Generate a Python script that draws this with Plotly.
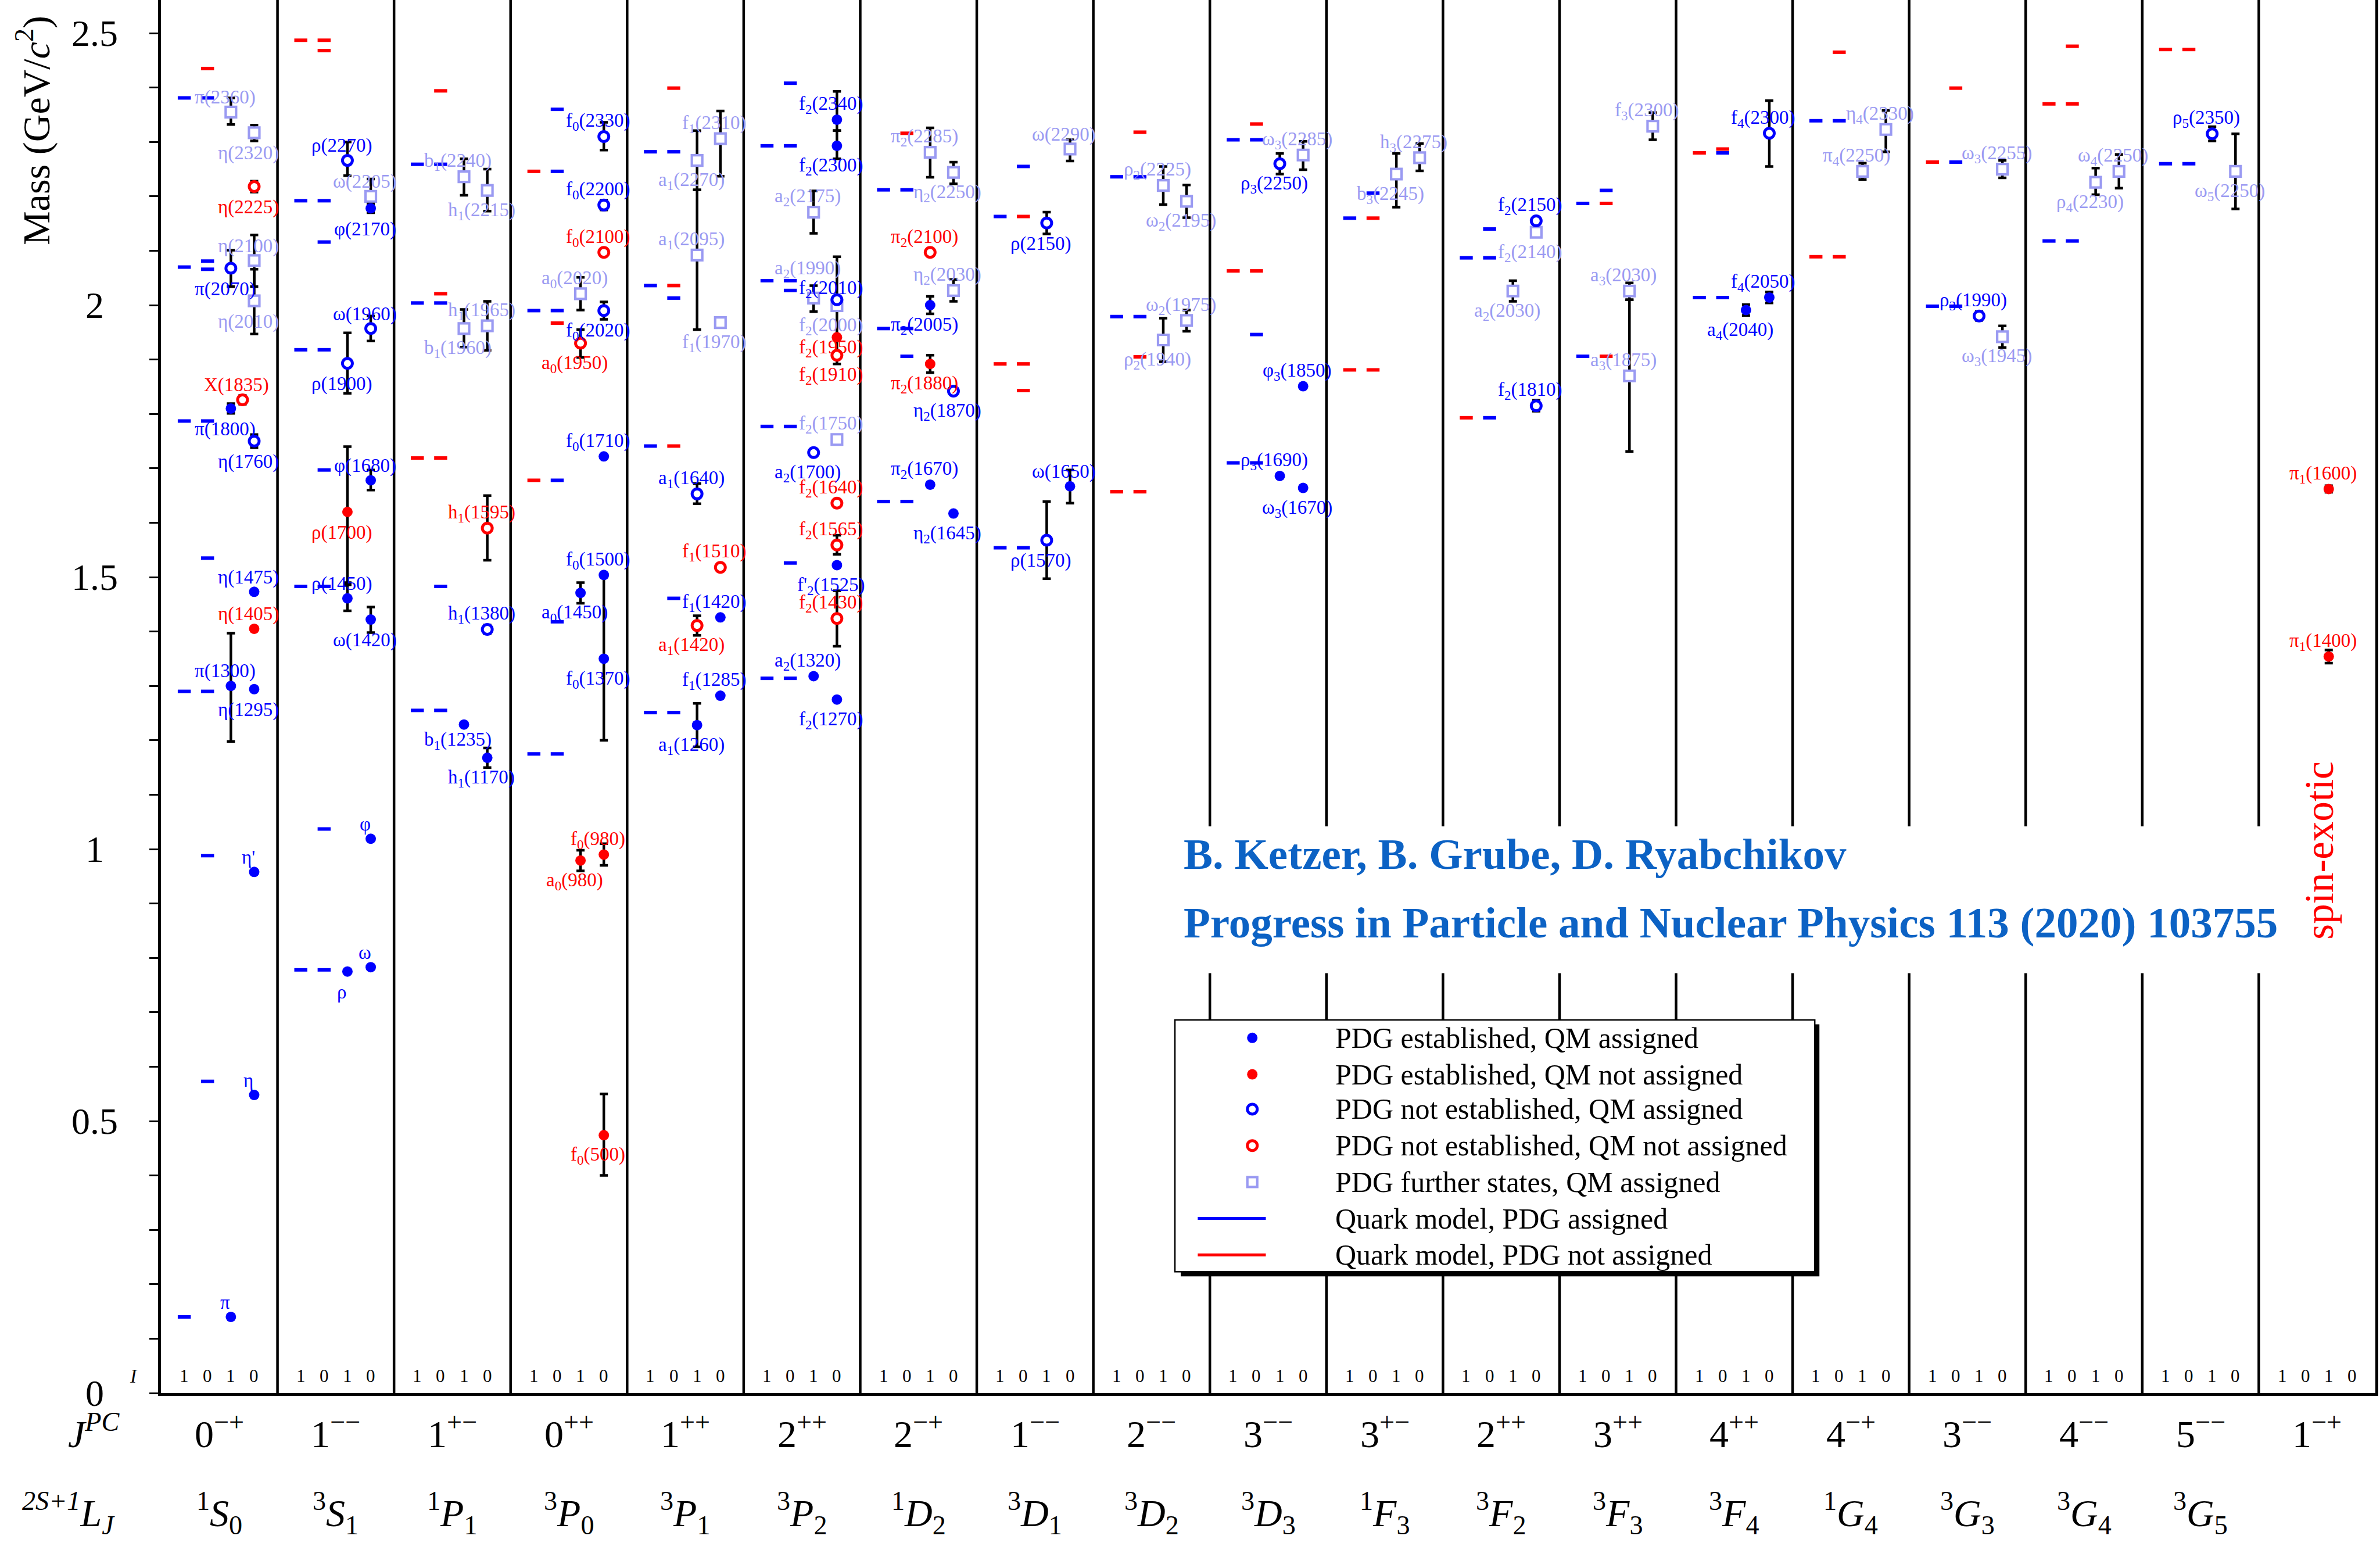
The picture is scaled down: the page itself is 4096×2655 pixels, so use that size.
import plotly.graph_objects as go

FONT = "Liberation Serif"
BLUE = "#0000ff"
RED = "#ff0000"
LIGHT = "#9a9af2"

# ---------------- quantum numbers of the 19 columns ----------------
jpc = ["0<sup>\u2212+</sup>", "1<sup>\u2212\u2212</sup>", "1<sup>+\u2212</sup>", "0<sup>++</sup>",
       "1<sup>++</sup>", "2<sup>++</sup>", "2<sup>\u2212+</sup>", "1<sup>\u2212\u2212</sup>",
       "2<sup>\u2212\u2212</sup>", "3<sup>\u2212\u2212</sup>", "3<sup>+\u2212</sup>", "2<sup>++</sup>",
       "3<sup>++</sup>", "4<sup>++</sup>", "4<sup>\u2212+</sup>", "3<sup>\u2212\u2212</sup>",
       "4<sup>\u2212\u2212</sup>", "5<sup>\u2212\u2212</sup>", "1<sup>\u2212+</sup>"]
term = ["1S0", "3S1", "1P1", "3P0", "3P1", "3P2", "1D2", "3D1", "3D2", "3D3",
        "1F3", "3F2", "3F3", "3F4", "1G4", "3G3", "3G4", "3G5", ""]
iso_row = ["1", "0", "1", "0"]
mass_ticks = [0, 0.5, 1, 1.5, 2, 2.5]
mass_tick_text = ["0", "0.5", "1", "1.5", "2", "2.5"]

# ---------------- quark-model levels (GeV), per column ----------------
# isospin of each level, whether it is matched to a PDG state (1) or not (0), and mass
qm_iso = [
    [1, 0, 0, 1, 0, 0, 1, 0, 0, 1, 0, 0, 0, 1],
    [1, 0, 0, 1, 0, 0, 1, 0, 0, 1, 0, 0, 1, 0],
    [0, 1, 0, 1, 0, 0, 1, 0, 0, 1, 0],
    [0, 1, 0, 1, 0, 0, 1, 0, 0, 1, 0],
    [0, 1, 0, 1, 0, 0, 1, 0, 0, 1, 0],
    [0, 1, 0, 1, 0, 0, 1, 0, 0, 1, 0],
    [0, 1, 0, 1, 0, 0, 1, 0],
    [0, 1, 0, 1, 0, 0, 1, 0],
    [0, 1, 0, 1, 0, 0, 1, 0],
    [0, 1, 0, 1, 0, 0, 1, 0],
    [0, 1, 0, 1, 0],
    [0, 1, 0, 1, 0],
    [0, 1, 0, 1, 0],
    [1, 0, 0, 1, 0],
    [0, 1, 0, 1, 0],
    [0, 1, 0, 1, 0],
    [0, 1, 0, 1, 0],
    [1, 0, 1, 0],
    [],
]
qm_pdg = [
    [1, 1, 0, 1, 1, 1, 1, 1, 1, 1, 1, 1, 1, 1],
    [0, 0, 0, 1, 1, 1, 1, 1, 1, 1, 1, 1, 1, 1],
    [0, 1, 1, 1, 0, 1, 0, 0, 1, 1, 1],
    [1, 0, 1, 1, 1, 0, 0, 1, 1, 1, 1],
    [0, 1, 1, 1, 0, 1, 1, 0, 1, 1, 1],
    [1, 1, 1, 1, 1, 1, 1, 1, 1, 1, 1],
    [0, 1, 1, 1, 1, 1, 1, 1],
    [1, 1, 0, 0, 0, 0, 1, 1],
    [0, 1, 1, 1, 1, 0, 0, 0],
    [0, 1, 1, 0, 0, 1, 1, 1],
    [1, 1, 0, 0, 0],
    [1, 1, 1, 0, 1],
    [1, 1, 0, 1, 0],
    [0, 0, 1, 1, 1],
    [0, 1, 1, 0, 0],
    [0, 0, 1, 1, 1],
    [0, 0, 0, 1, 1],
    [0, 0, 1, 1],
    [],
]
qm_mass = [
    [2.381, 2.381, 2.435, 2.070, 2.081, 2.066, 1.787, 1.787, 1.535, 1.290, 1.290, 0.988, 0.573, 0.140],
    [2.487, 2.487, 2.468, 2.192, 2.192, 2.116, 1.918, 1.918, 1.697, 1.483, 1.483, 1.037, 0.778, 0.778],
    [2.394, 2.259, 2.259, 2.004, 2.021, 2.004, 1.719, 1.719, 1.483, 1.255, 1.255],
    [2.360, 2.246, 2.246, 1.990, 1.990, 1.967, 1.678, 1.678, 1.418, 1.175, 1.175],
    [2.399, 2.282, 2.282, 2.036, 2.036, 2.013, 1.741, 1.741, 1.461, 1.251, 1.251],
    [2.408, 2.293, 2.293, 2.045, 2.045, 2.027, 1.777, 1.777, 1.526, 1.314, 1.314],
    [2.316, 2.212, 2.212, 1.957, 1.957, 1.906, 1.639, 1.639],
    [2.255, 2.163, 2.163, 1.892, 1.892, 1.843, 1.554, 1.554],
    [2.318, 2.236, 2.236, 1.979, 1.979, 1.905, 1.657, 1.657],
    [2.333, 2.304, 2.304, 2.063, 2.063, 1.946, 1.710, 1.710],
    [2.206, 2.160, 2.160, 1.881, 1.881],
    [2.140, 2.087, 2.087, 1.793, 1.793],
    [2.211, 2.187, 2.187, 1.906, 1.906],
    [2.280, 2.287, 2.280, 2.014, 2.014],
    [2.465, 2.339, 2.339, 2.089, 2.089],
    [2.399, 2.263, 2.263, 1.998, 1.998],
    [2.476, 2.370, 2.370, 2.118, 2.118],
    [2.470, 2.470, 2.260, 2.260],
    [],
]

# ---------------- PDG states ----------------
# class: EA established/assigned, EN established/not assigned,
#        NA not established/assigned, NN not established/not assigned, F further states
pdg_name = [
    "\u03c0", "\u03b7", "\u03b7'", "\u03c0(1300)", "\u03b7(1295)", "\u03b7(1405)", "\u03b7(1475)",
    "\u03c0(1800)", "X(1835)", "\u03b7(1760)", "\u03c0(2070)", "\u03b7(2100)", "\u03b7(2010)",
    "\u03b7(2225)", "\u03b7(2320)", "\u03c0(2360)",
    "\u03c1", "\u03c9", "\u03c6", "\u03c1(1450)", "\u03c9(1420)", "\u03c1(1700)", "\u03c6(1680)",
    "\u03c1(1900)", "\u03c9(1960)", "\u03c6(2170)", "\u03c9(2205)", "\u03c1(2270)",
    "b<sub>1</sub>(1235)", "h<sub>1</sub>(1170)", "h<sub>1</sub>(1380)", "h<sub>1</sub>(1595)",
    "b<sub>1</sub>(1960)", "h<sub>1</sub>(1965)", "b<sub>1</sub>(2240)", "h<sub>1</sub>(2215)",
    "f<sub>0</sub>(500)", "a<sub>0</sub>(980)", "f<sub>0</sub>(980)", "a<sub>0</sub>(1450)",
    "f<sub>0</sub>(1370)", "f<sub>0</sub>(1500)", "f<sub>0</sub>(1710)", "a<sub>0</sub>(1950)",
    "f<sub>0</sub>(2020)", "a<sub>0</sub>(2020)", "f<sub>0</sub>(2100)", "f<sub>0</sub>(2200)",
    "f<sub>0</sub>(2330)",
    "a<sub>1</sub>(1260)", "f<sub>1</sub>(1285)", "a<sub>1</sub>(1420)", "f<sub>1</sub>(1420)",
    "f<sub>1</sub>(1510)", "a<sub>1</sub>(1640)", "f<sub>1</sub>(1970)", "a<sub>1</sub>(2095)",
    "a<sub>1</sub>(2270)", "f<sub>1</sub>(2310)",
    "a<sub>2</sub>(1320)", "f<sub>2</sub>(1270)", "f<sub>2</sub>(1430)", "f'<sub>2</sub>(1525)",
    "f<sub>2</sub>(1565)", "f<sub>2</sub>(1640)", "a<sub>2</sub>(1700)", "f<sub>2</sub>(1750)",
    "f<sub>2</sub>(1910)", "f<sub>2</sub>(1950)", "f<sub>2</sub>(2000)", "f<sub>2</sub>(2010)",
    "a<sub>2</sub>(1990)", "a<sub>2</sub>(2175)", "f<sub>2</sub>(2300)", "f<sub>2</sub>(2340)",
    "\u03c0<sub>2</sub>(1670)", "\u03b7<sub>2</sub>(1645)", "\u03c0<sub>2</sub>(1880)",
    "\u03b7<sub>2</sub>(1870)", "\u03c0<sub>2</sub>(2005)", "\u03b7<sub>2</sub>(2030)",
    "\u03c0<sub>2</sub>(2100)", "\u03c0<sub>2</sub>(2285)", "\u03b7<sub>2</sub>(2250)",
    "\u03c1(1570)", "\u03c9(1650)", "\u03c1(2150)", "\u03c9(2290)",
    "\u03c1<sub>2</sub>(1940)", "\u03c9<sub>2</sub>(1975)", "\u03c1<sub>2</sub>(2225)",
    "\u03c9<sub>2</sub>(2195)",
    "\u03c1<sub>3</sub>(1690)", "\u03c9<sub>3</sub>(1670)", "\u03c6<sub>3</sub>(1850)",
    "\u03c1<sub>3</sub>(2250)", "\u03c9<sub>3</sub>(2285)",
    "b<sub>3</sub>(2245)", "h<sub>3</sub>(2275)",
    "a<sub>2</sub>(2030)", "f<sub>2</sub>(1810)", "f<sub>2</sub>(2140)", "f<sub>2</sub>(2150)",
    "a<sub>3</sub>(1875)", "a<sub>3</sub>(2030)", "f<sub>3</sub>(2300)",
    "a<sub>4</sub>(2040)", "f<sub>4</sub>(2050)", "f<sub>4</sub>(2300)",
    "\u03c0<sub>4</sub>(2250)", "\u03b7<sub>4</sub>(2330)",
    "\u03c1<sub>3</sub>(1990)", "\u03c9<sub>3</sub>(1945)", "\u03c9<sub>3</sub>(2255)",
    "\u03c1<sub>4</sub>(2230)", "\u03c9<sub>4</sub>(2250)",
    "\u03c1<sub>5</sub>(2350)", "\u03c9<sub>5</sub>(2250)",
    "\u03c0<sub>1</sub>(1400)", "\u03c0<sub>1</sub>(1600)",
]
pdg_col = [0] * 16 + [1] * 12 + [2] * 8 + [3] * 13 + [4] * 10 + [5] * 16 + [6] * 9 + [7] * 4 \
    + [8] * 4 + [9] * 5 + [10] * 2 + [11] * 4 + [12] * 3 + [13] * 3 + [14] * 2 + [15] * 3 \
    + [16] * 2 + [17] * 2 + [18] * 2
pdg_iso = [
    1, 0, 0, 1, 0, 0, 0, 1, None, 0, 1, 0, 0, 0, 0, 1,
    1, 0, 0, 1, 0, 1, 0, 1, 0, 0, 0, 1,
    1, 0, 0, 0, 1, 0, 1, 0,
    0, 1, 0, 1, 0, 0, 0, 1, 0, 1, 0, 0, 0,
    1, 0, 1, 0, 0, 1, 0, 1, 1, 0,
    1, 0, 0, 0, 0, 0, 1, 0, 0, 0, 0, 0, 1, 1, 0, 0,
    1, 0, 1, 0, 1, 0, 1, 1, 0,
    1, 0, 1, 0,
    1, 0, 1, 0,
    1, 0, 0, 1, 0,
    1, 0,
    1, 0, 0, 0,
    1, 1, 0,
    1, 0, 0,
    1, 0,
    1, 0, 0,
    1, 0,
    1, 0,
    1, 1,
]
pdg_mass = [
    0.140, 0.548, 0.958, 1.300, 1.294, 1.405, 1.473, 1.810, 1.826, 1.750, 2.068, 2.082, 2.008,
    2.218, 2.317, 2.355,
    0.775, 0.783, 1.019, 1.461, 1.422, 1.620, 1.678, 1.893, 1.957, 2.178, 2.200, 2.266,
    1.229, 1.168, 1.404, 1.590, 1.957, 1.962, 2.236, 2.211,
    0.474, 0.979, 0.990, 1.471, 1.350, 1.504, 1.722, 1.930, 1.990, 2.021, 2.097, 2.184, 2.310,
    1.228, 1.282, 1.411, 1.426, 1.518, 1.653, 1.968, 2.092, 2.266, 2.306,
    1.318, 1.275, 1.424, 1.522, 1.559, 1.636, 1.729, 1.753, 1.908, 1.941, 1.999, 2.010, 2.013,
    2.171, 2.293, 2.341,
    1.670, 1.617, 1.892, 1.842, 2.000, 2.027, 2.097, 2.281, 2.244,
    1.568, 1.667, 2.151, 2.287,
    1.936, 1.972, 2.220, 2.191,
    1.686, 1.664, 1.851, 2.260, 2.276,
    2.241, 2.271,
    2.026, 1.815, 2.134, 2.155,
    1.870, 2.026, 2.329,
    1.991, 2.014, 2.316,
    2.246, 2.323,
    1.980, 1.942, 2.250,
    2.226, 2.246,
    2.315, 2.246,
    1.354, 1.662,
]
pdg_err_up = [
    None, None, None, 0.097, None, None, None, 0.009, 0.008, 0.012, 0.033, 0.047, 0.058,
    0.010, 0.014, 0.026,
    None, None, None, 0.025, 0.023, 0.120, 0.019, 0.056, 0.023, 0.008, 0.032, 0.034,
    None, 0.018, 0.008, 0.060, 0.035, 0.045, 0.033, 0.039,
    0.076, 0.019, 0.020, 0.019, 0.150, None, None, 0.025, 0.016, 0.030, None, 0.009, 0.026,
    0.040, None, 0.018, None, None, 0.019, 0.008, 0.120, 0.055, 0.051,
    None, None, 0.051, None, 0.018, None, None, None, None, None, 0.090, None, 0.023,
    0.039, 0.028, 0.052,
    None, None, 0.016, None, 0.016, 0.020, None, 0.045, 0.019,
    0.071, 0.030, 0.020, 0.017,
    0.040, 0.019, 0.035, 0.030,
    None, None, None, 0.019, 0.025,
    0.038, 0.026,
    0.019, 0.010, 0.006, 0.005,
    0.140, 0.015, 0.025,
    0.010, 0.010, 0.060,
    0.015, 0.035,
    0.008, 0.020, 0.016,
    0.026, 0.031,
    0.013, 0.069,
    0.012, 0.006,
]
pdg_err_dn = [
    None, None, None, 0.102, None, None, None, 0.009, 0.008, 0.012, 0.034, 0.048, 0.061,
    0.010, 0.015, 0.023,
    None, None, None, 0.023, 0.024, 0.130, 0.018, 0.055, 0.023, 0.008, 0.022, 0.028,
    None, 0.018, 0.008, 0.059, 0.034, 0.045, 0.034, 0.038,
    0.074, 0.019, 0.020, 0.019, 0.150, None, None, 0.026, 0.016, 0.030, None, 0.009, 0.025,
    0.040, None, 0.018, None, None, 0.018, 0.008, 0.137, 0.054, 0.069,
    None, None, 0.051, None, 0.017, None, None, None, None, None, 0.107, None, 0.025,
    0.039, 0.024, 0.020,
    None, None, 0.016, None, 0.016, 0.020, None, 0.046, 0.021,
    0.071, 0.031, 0.020, 0.022,
    0.040, 0.020, 0.035, 0.030,
    None, None, None, 0.019, 0.027,
    0.061, 0.024,
    0.019, 0.010, 0.006, 0.005,
    0.139, 0.016, 0.025,
    0.010, 0.010, 0.061,
    0.015, 0.041,
    0.008, 0.020, 0.016,
    0.023, 0.031,
    0.013, 0.069,
    0.012, 0.006,
]
pdg_class = [
    "EA", "EA", "EA", "EA", "EA", "EN", "EA", "EA", "NN", "NA", "NA", "F", "F", "NN", "F", "F",
    "EA", "EA", "EA", "EA", "EA", "EN", "EA", "NA", "NA", "EA", "F", "NA",
    "EA", "EA", "NA", "NN", "F", "F", "F", "F",
    "EN", "EN", "EN", "EA", "EA", "EA", "EA", "NN", "NA", "F", "NN", "NA", "NA",
    "EA", "EA", "NN", "EA", "NN", "NA", "F", "F", "F", "F",
    "EA", "EA", "NN", "EA", "NN", "NN", "NA", "F", "NN", "EN", "F", "NA", "F", "F", "EA", "EA",
    "EA", "EA", "EN", "NA", "EA", "F", "NN", "F", "F",
    "NA", "EA", "NA", "F",
    "F", "F", "F", "F",
    "EA", "EA", "EA", "NA", "F",
    "F", "F",
    "F", "NA", "F", "NA",
    "F", "F", "F",
    "EA", "EA", "NA",
    "F", "F",
    "NA", "F", "F",
    "F", "F",
    "NA", "F",
    "EN", "EN",
]

# label placement: 'a' above the marker, 'b' below; a few labels get their own offset
label_side = [
    "a", "a", "a", "a", "b", "a", "a", "b", "a", "b", "b", "a", "b", "b", "b", "a",
    "b", "a", "a", "a", "b", "b", "a", "b", "a", "b", "a", "a",
    "b", "b", "a", "a", "b", "a", "a", "b",
    "b", "b", "a", "b", "b", "a", "a", "b", "b", "a", "a", "a", "a",
    "b", "a", "b", "a", "a", "a", "b", "a", "b", "a",
    "a", "b", "a", "b", "a", "a", "b", "a", "b", "b", "b", "a", "a", "a", "b", "a",
    "a", "b", "b", "b", "b", "a", "a", "a", "b",
    "b", "a", "b", "a",
    "b", "a", "a", "b",
    "a", "b", "a", "b", "a",
    "b", "a",
    "b", "a", "b", "a",
    "a", "a", "a",
    "b", "a", "a",
    "a", "a",
    "a", "b", "a",
    "b", "a",
    "a", "b",
    "a", "a",
]
label_dy_special = {"b<sub>1</sub>(1235)": -0.030, "f<sub>2</sub>(1950)": -0.021,
                    "a<sub>2</sub>(1990)": 0.053, "f<sub>2</sub>(2010)": 0.020}

QM_DX = {1: 0.2, 0: 0.4}
PDG_DX = {1: 0.6, 0: 0.8, None: 0.7}

fig = go.Figure()

# quark-model levels as short horizontal dashes
for flag, colr in ((1, BLUE), (0, RED)):
    xs, ys = [], []
    for c in range(len(qm_mass)):
        for iso, pdg, m in zip(qm_iso[c], qm_pdg[c], qm_mass[c]):
            if pdg == flag:
                xs.append(c + QM_DX[iso])
                ys.append(m)
    fig.add_trace(go.Scatter(
        x=xs, y=ys, mode="markers", hoverinfo="skip",
        marker=dict(symbol="line-ew", size=16, color=colr,
                    line=dict(color=colr, width=6))))

# PDG states with their mass ranges
styles = {
    "EA": dict(symbol="circle", size=18, color=BLUE, line=dict(width=0)),
    "EN": dict(symbol="circle", size=18, color=RED, line=dict(width=0)),
    "NA": dict(symbol="circle", size=17, color="white", line=dict(color=BLUE, width=5)),
    "NN": dict(symbol="circle", size=17, color="white", line=dict(color=RED, width=5)),
    "F": dict(symbol="square", size=18, color="white", line=dict(color=LIGHT, width=4.2)),
}
label_color = {"EA": BLUE, "NA": BLUE, "EN": RED, "NN": RED, "F": LIGHT}

for cls in ("F", "NA", "NN", "EA", "EN"):
    idx = [i for i, k in enumerate(pdg_class) if k == cls]
    fig.add_trace(go.Scatter(
        x=[pdg_col[i] + PDG_DX[pdg_iso[i]] for i in idx],
        y=[pdg_mass[i] for i in idx],
        mode="markers", hoverinfo="skip", marker=styles[cls],
        error_y=dict(type="data", symmetric=False,
                     array=[pdg_err_up[i] for i in idx],
                     arrayminus=[pdg_err_dn[i] for i in idx],
                     color="black", thickness=4.5, width=7)))

ann = []
for i, name in enumerate(pdg_name):
    dy = label_dy_special.get(name, 0.027 if label_side[i] == "a" else -0.038)
    ann.append(dict(x=pdg_col[i] + PDG_DX[pdg_iso[i]] - 0.05, y=pdg_mass[i] + dy,
                    xref="x", yref="y", text=name, showarrow=False,
                    xanchor="center", yanchor="middle",
                    font=dict(family=FONT, size=33, color=label_color[pdg_class[i]])))

# mass tick labels, centred left of the axis
for v, t in zip(mass_ticks, mass_tick_text):
    ann.append(dict(x=-0.0298, y=v, xref="paper", yref="y", text=t, showarrow=False,
                    xanchor="center", yanchor="middle",
                    font=dict(family=FONT, size=64, color="black")))

# isospin row inside the frame
for c in range(len(jpc)):
    for k, off in enumerate((0.2, 0.4, 0.6, 0.8)):
        ann.append(dict(x=c + off, y=0.031, xref="x", yref="y", text=iso_row[k],
                        showarrow=False, xanchor="center", yanchor="middle",
                        font=dict(family=FONT, size=31, color="black")))
ann.append(dict(x=-0.0123, y=0.031, xref="paper", yref="y", text="<i>I</i>",
                showarrow=False, xanchor="center", yanchor="middle",
                font=dict(family=FONT, size=33, color="black")))

# J^PC and spectroscopic rows under the axis
for c in range(len(jpc)):
    ann.append(dict(x=c + 0.5, y=-0.0274, xref="x", yref="paper", text=jpc[c],
                    showarrow=False, xanchor="center", yanchor="middle",
                    font=dict(family=FONT, size=66, color="black")))
    t = term[c]
    if t:
        ann.append(dict(x=c + 0.5, y=-0.0862, xref="x", yref="paper",
                        text="<sup>%s</sup><i>%s</i><sub>%s</sub>" % (t[0], t[1], t[2]),
                        showarrow=False, xanchor="center", yanchor="middle",
                        font=dict(family=FONT, size=66, color="black")))
ann.append(dict(x=-0.0301, y=-0.0274, xref="paper", yref="paper", text="<i>J<sup>PC</sup></i>",
                showarrow=False, xanchor="center", yanchor="middle",
                font=dict(family=FONT, size=66, color="black")))
ann.append(dict(x=-0.0418, y=-0.0862, xref="paper", yref="paper",
                text="<i><sup>2S+1</sup>L<sub>J</sub></i>",
                showarrow=False, xanchor="center", yanchor="middle",
                font=dict(family=FONT, size=66, color="black")))

# axis title
ann.append(dict(x=-0.0576, y=0.9063, xref="paper", yref="paper",
                text="Mass (GeV/<i>c</i><sup>2</sup>)", textangle=-90, showarrow=False,
                xanchor="center", yanchor="middle",
                font=dict(family=FONT, size=66, color="black")))

# reference and spin-exotic tag
CITE = "rgb(12,98,196)"
ann.append(dict(x=8.766, y=0.9905, xref="x", yref="y",
                text="<b>B. Ketzer, B. Grube, D. Ryabchikov</b>", showarrow=False,
                xanchor="left", yanchor="middle", font=dict(family=FONT, size=75, color=CITE)))
ann.append(dict(x=8.766, y=0.865, xref="x", yref="y",
                text="<b>Progress in Particle and Nuclear Physics 113 (2020) 103755</b>",
                showarrow=False, xanchor="left", yanchor="middle",
                font=dict(family=FONT, size=75, color=CITE)))
ann.append(dict(x=18.52, y=0.998, xref="x", yref="y", text="spin-exotic", textangle=-90,
                showarrow=False, xanchor="center", yanchor="middle",
                font=dict(family=FONT, size=69, color=RED)))

# legend
legend_rows = [
    ("circle", BLUE, True, "PDG established, QM assigned"),
    ("circle", RED, True, "PDG established, QM not assigned"),
    ("circle", BLUE, False, "PDG not established, QM assigned"),
    ("circle", RED, False, "PDG not established, QM not assigned"),
    ("rect", LIGHT, False, "PDG further states, QM assigned"),
    ("line", BLUE, None, "Quark model, PDG assigned"),
    ("line", RED, None, "Quark model, PDG not assigned"),
]
legend_y = [0.653, 0.586, 0.522, 0.455, 0.388, 0.321, 0.254]

shapes = []
for c in range(1, len(jpc)):
    shapes.append(dict(type="line", xref="x", yref="paper", x0=c, x1=c, y0=0, y1=1,
                       line=dict(color="black", width=4.5), layer="below"))
# white band behind the reference text
shapes.append(dict(type="rect", xref="x", yref="y", x0=8.71, x1=18.15, y0=0.772, y1=1.042,
                   fillcolor="white", line=dict(width=0), layer="above"))
# legend frame with drop shadow
shapes.append(dict(type="rect", xref="x", yref="y", x0=8.75, x1=14.23, y0=0.2145, y1=0.678,
                   fillcolor="black", line=dict(width=0), layer="above"))
shapes.append(dict(type="rect", xref="x", yref="y", x0=8.70, x1=14.19, y0=0.223, y1=0.686,
                   fillcolor="white", line=dict(color="black", width=2.5), layer="above"))
for (kind, colr, filled, text), yy in zip(legend_rows, legend_y):
    if kind == "line":
        shapes.append(dict(type="line", xref="x", yref="y", x0=8.896, x1=9.48, y0=yy, y1=yy,
                           line=dict(color=colr, width=5), layer="above"))
    else:
        r = 9 if filled else 8.5
        shapes.append(dict(type=kind, xref="x", yref="y", xsizemode="pixel", ysizemode="pixel",
                           xanchor=9.364, yanchor=yy, x0=-r, x1=r, y0=-r, y1=r,
                           fillcolor=colr if filled else "white",
                           line=dict(color=colr, width=0 if filled else (5 if kind == "circle" else 4.2)),
                           layer="above"))
    ann.append(dict(x=10.065, y=yy, xref="x", yref="y", text=text, showarrow=False,
                    xanchor="left", yanchor="middle",
                    font=dict(family=FONT, size=50, color="black")))

fig.update_layout(
    width=4096, height=2655,
    margin=dict(l=277, r=8, t=0, b=258),
    paper_bgcolor="white", plot_bgcolor="white",
    showlegend=False, annotations=ann, shapes=shapes,
    xaxis=dict(range=[0, 19], showgrid=False, zeroline=False, showticklabels=False, ticks="",
               showline=True, linecolor="black", linewidth=4.5),
    yaxis=dict(range=[0, 2.561], showgrid=False, zeroline=False,
               tickvals=mass_ticks, showticklabels=False,
               ticks="outside", ticklen=15, tickwidth=3, tickcolor="black",
               minor=dict(dtick=0.1, ticks="outside", ticklen=15, tickwidth=3, tickcolor="black"),
               showline=True, linecolor="black", linewidth=4.5, mirror=True),
)

fig.write_html("out.html")
